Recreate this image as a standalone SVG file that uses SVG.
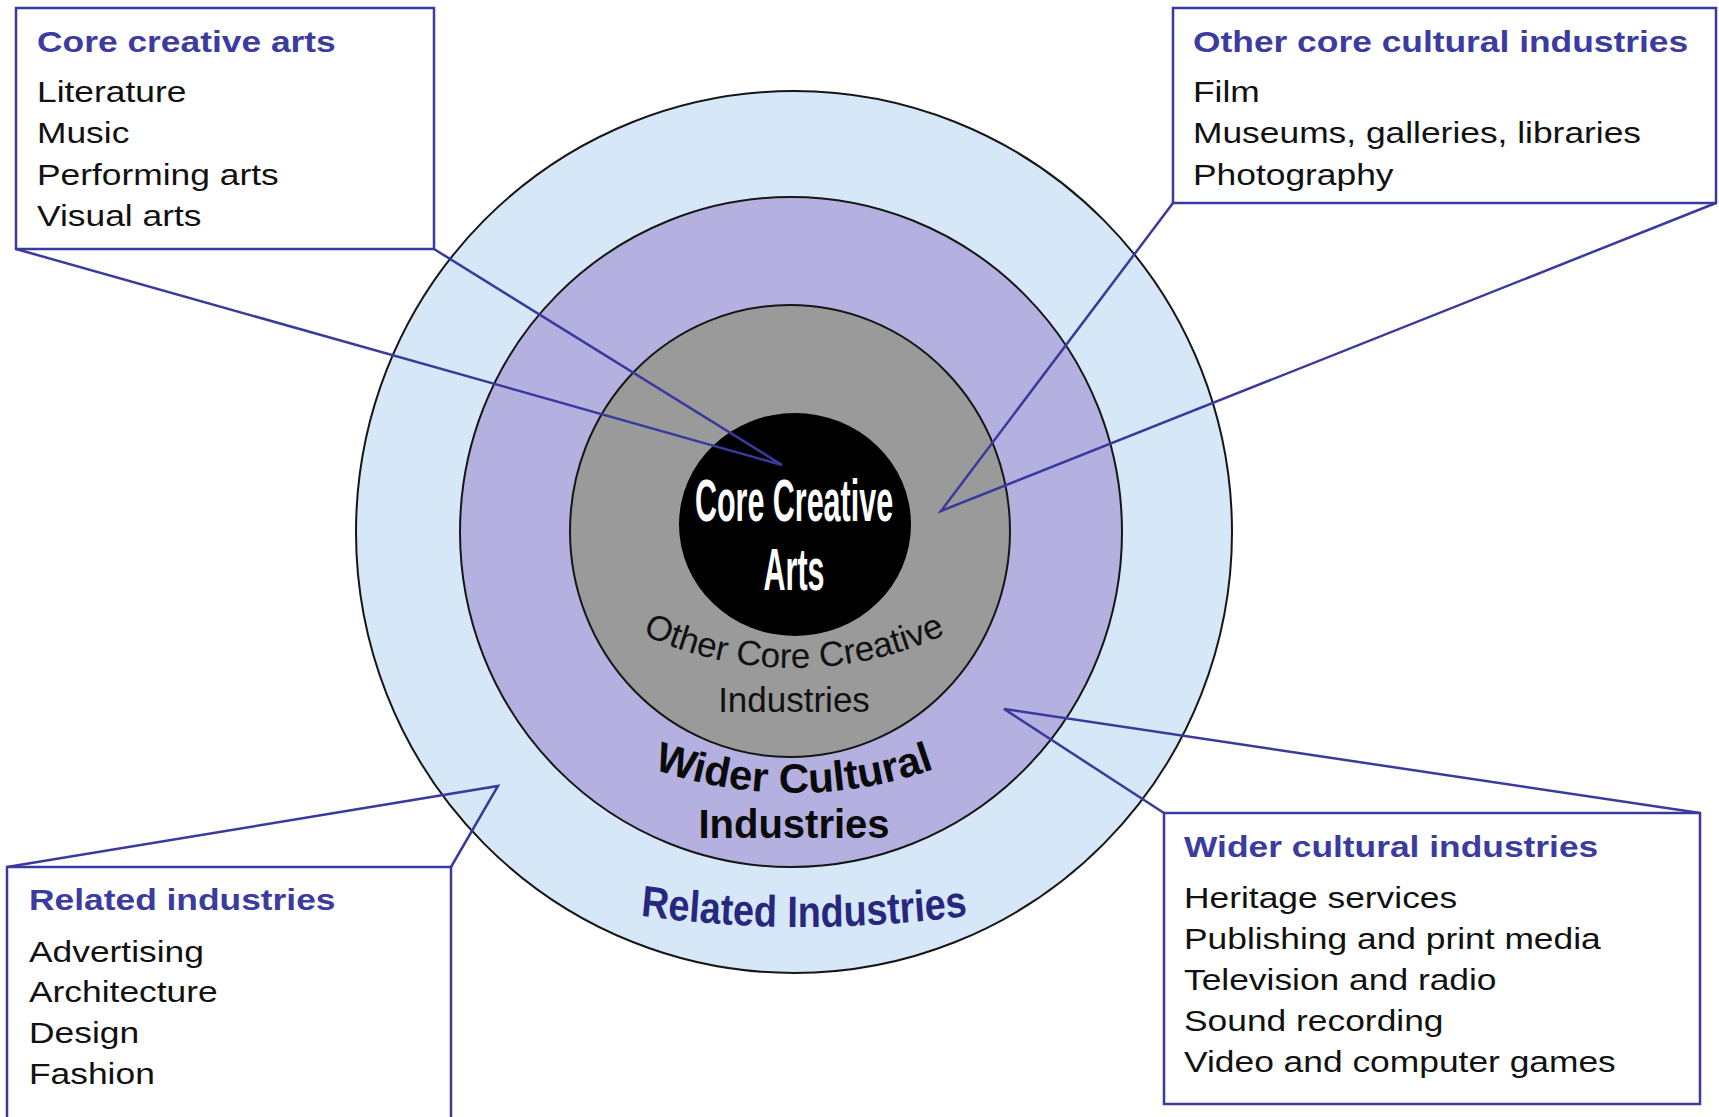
<svg xmlns="http://www.w3.org/2000/svg" width="1719" height="1117" viewBox="0 0 1719 1117">
  <style>
    .ring { stroke: #161616; stroke-width: 2; }
    .box { fill: #ffffff; stroke: #3a3a9c; stroke-width: 2.5; }
    .conn { fill: none; stroke: #3a3a9c; stroke-width: 2.5; stroke-linejoin: miter; }
    .title { font-family: "Liberation Sans", Arial, sans-serif; font-size: 29px; font-weight: bold; fill: #3c3ca0; }
    .item { font-family: "Liberation Sans", Arial, sans-serif; font-size: 29px; fill: #111111; }
    .core { font-family: "Liberation Sans", Arial, sans-serif; font-size: 60px; font-weight: bold; fill: #ffffff; text-anchor: middle; }
    .occi { font-family: "Liberation Sans", Arial, sans-serif; font-size: 35px; fill: #111111; }
    .wci { font-family: "Liberation Sans", Arial, sans-serif; font-size: 42px; font-weight: bold; fill: #0a0a0a; }
    .wci2 { font-family: "Liberation Sans", Arial, sans-serif; font-size: 40px; font-weight: bold; fill: #0a0a0a; }
    .rel { font-family: "Liberation Sans", Arial, sans-serif; font-size: 44px; font-weight: bold; fill: #27277e; }
  </style>
  <defs>
    <path id="arcOther" d="M485.7 490 A356 356 0 0 0 1102.3 490"/>
    <path id="arcWider" d="M472.3 643 A420 420 0 0 0 1115.7 643"/>
    <path id="arcRelated" d="M-414 872.5 A1600 1600 0 0 0 414 872.5"/>
  </defs>
  <rect width="1719" height="1117" fill="#ffffff"/>

  <g id="ring-related">
    <ellipse class="ring" cx="794" cy="532" rx="438" ry="441" fill="#d6e8f8"/>
  </g>
  <g id="ring-wider">
    <ellipse class="ring" cx="791" cy="532" rx="331" ry="335" fill="#b4b0e0"/>
  </g>
  <g id="ring-other-core">
    <ellipse class="ring" cx="790" cy="531" rx="220" ry="226" fill="#9a9a9a"/>
  </g>
  <g id="core-creative-arts">
    <ellipse cx="795" cy="524.5" rx="116" ry="111.5" fill="#000000"/>
  </g>

  <g id="ring-labels">
    <text class="occi"><textPath href="#arcOther" startOffset="50%" text-anchor="middle">Other Core Creative</textPath></text>
    <text class="occi" x="794" y="712" text-anchor="middle">Industries</text>
    <text class="wci"><textPath href="#arcWider" startOffset="50%" text-anchor="middle">Wider Cultural</textPath></text>
    <text class="wci2" x="794" y="838" text-anchor="middle">Industries</text>
    <g transform="translate(804,0) scale(0.86,1)">
      <text class="rel"><textPath href="#arcRelated" startOffset="50%" text-anchor="middle">Related Industries</textPath></text>
    </g>
  </g>

  <g id="connectors">
    <polyline class="conn" points="16,249 782,465 434,249"/>
    <polyline class="conn" points="1173,203 941,511 1716,203"/>
    <polyline class="conn" points="7,867 498,786 451,867"/>
    <polyline class="conn" points="1164,813 1004,709 1700,813"/>
  </g>

  <g id="core-label" transform="translate(794,0) scale(0.508,1)">
    <text class="core" x="0" y="521">Core Creative</text>
    <text class="core" x="0" y="590">Arts</text>
  </g>

  <g id="box-core-creative-arts">
    <rect class="box" x="16" y="8" width="418" height="241"/>
    <g transform="translate(37,0) scale(1.22,1)">
      <text class="title" x="0" y="52">Core creative arts</text>
      <text class="item" x="0" y="102">Literature</text>
      <text class="item" x="0" y="143.5">Music</text>
      <text class="item" x="0" y="185">Performing arts</text>
      <text class="item" x="0" y="226.5">Visual arts</text>
    </g>
  </g>

  <g id="box-other-core-cultural">
    <rect class="box" x="1173" y="8" width="543" height="195"/>
    <g transform="translate(1193,0) scale(1.22,1)">
      <text class="title" x="0" y="52">Other core cultural industries</text>
      <text class="item" x="0" y="102">Film</text>
      <text class="item" x="0" y="143.5">Museums, galleries, libraries</text>
      <text class="item" x="0" y="185">Photography</text>
    </g>
  </g>

  <g id="box-related-industries">
    <rect class="box" x="7" y="867" width="444" height="270"/>
    <g transform="translate(29,0) scale(1.22,1)">
      <text class="title" x="0" y="910">Related industries</text>
      <text class="item" x="0" y="962">Advertising</text>
      <text class="item" x="0" y="1002">Architecture</text>
      <text class="item" x="0" y="1043">Design</text>
      <text class="item" x="0" y="1084">Fashion</text>
    </g>
  </g>

  <g id="box-wider-cultural">
    <rect class="box" x="1164" y="813" width="536" height="291"/>
    <g transform="translate(1184,0) scale(1.22,1)">
      <text class="title" x="0" y="857">Wider cultural industries</text>
      <text class="item" x="0" y="908">Heritage services</text>
      <text class="item" x="0" y="949">Publishing and print media</text>
      <text class="item" x="0" y="990">Television and radio</text>
      <text class="item" x="0" y="1031">Sound recording</text>
      <text class="item" x="0" y="1072">Video and computer games</text>
    </g>
  </g>
</svg>
